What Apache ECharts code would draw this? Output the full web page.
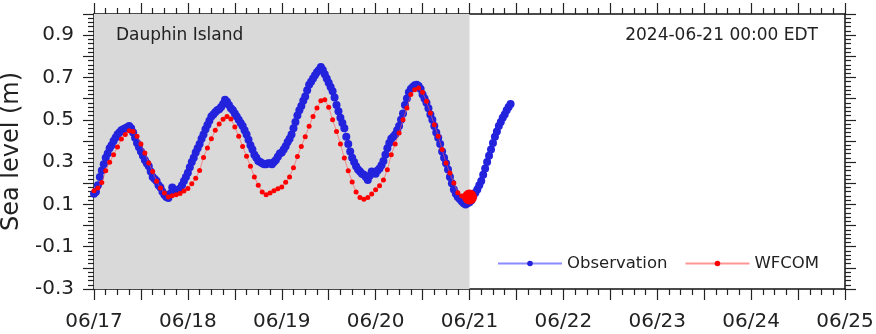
<!DOCTYPE html>
<html>
<head>
<meta charset="utf-8">
<script src="https://cdn.jsdelivr.net/npm/echarts@6/dist/echarts.min.js"></script>
<style>
html,body{margin:0;padding:0;background:#fff;}
#chart{width:876px;height:334px;}
</style>
</head>
<body>
<div id="chart"></div>
<script>
// ---- data ----
const xTickLabels = ['06/17','06/18','06/19','06/20','06/21','06/22','06/23','06/24','06/25'];
const yTickLabels = ['-0.3','-0.1','0.1','0.3','0.5','0.7','0.9'];
const stationName = 'Dauphin Island';
const nowLabel = '2024-06-21 00:00 EDT';
const nowHour = 96;               // 06/21 00:00, hours after 06/17 00:00
const obsStepHours = 0.5;
const obsValues = [
  0.15,0.16,0.19,0.23,0.26,0.29,0.32,0.34,0.365,0.38,0.40,0.415,0.43,0.44,0.45,0.455,0.46,0.465,0.47,0.46,0.44,0.415,0.39,0.37,
  0.35,0.33,0.31,0.295,0.28,0.255,0.23,0.22,0.21,0.19,0.18,0.16,0.145,0.135,0.13,0.15,0.18,0.17,0.16,0.165,0.175,0.19,0.21,0.23,
  0.25,0.275,0.30,0.32,0.345,0.365,0.385,0.41,0.43,0.455,0.475,0.495,0.515,0.525,0.535,0.545,0.55,0.56,0.575,0.595,0.585,0.57,0.555,0.545,
  0.53,0.515,0.50,0.485,0.47,0.45,0.43,0.405,0.38,0.36,0.335,0.32,0.305,0.30,0.295,0.29,0.29,0.295,0.295,0.29,0.30,0.31,0.325,0.34,
  0.345,0.36,0.375,0.395,0.41,0.43,0.46,0.49,0.52,0.545,0.565,0.59,0.61,0.64,0.665,0.68,0.695,0.71,0.725,0.735,0.75,0.735,0.715,0.695,
  0.675,0.655,0.635,0.605,0.57,0.54,0.51,0.485,0.46,0.42,0.385,0.35,0.32,0.30,0.28,0.265,0.255,0.245,0.24,0.23,0.215,0.235,0.255,0.25,
  0.245,0.26,0.27,0.285,0.305,0.335,0.365,0.39,0.41,0.42,0.43,0.45,0.47,0.50,0.53,0.57,0.60,0.63,0.645,0.655,0.663,0.665,0.66,0.645,
  0.62,0.60,0.58,0.555,0.525,0.50,0.47,0.44,0.415,0.385,0.35,0.32,0.295,0.265,0.23,0.20,0.17,0.15,0.135,0.125,0.115,0.105,0.10,0.105,
  0.11,0.12,0.14,0.155,0.17,0.19,0.21,0.24,0.27,0.30,0.33,0.36,0.39,0.42,0.445,0.47,0.49,0.51,0.525,0.545,0.56,0.575
];
const fcStepHours = 1;
const fcValues = [
  0.165,0.178,0.204,0.259,0.299,0.335,0.371,0.409,0.43,0.448,
  0.445,0.422,0.386,0.343,0.296,0.256,0.209,0.178,0.154,0.135,
  0.141,0.146,0.152,0.163,0.175,0.197,0.223,0.26,0.322,0.366,
  0.41,0.45,0.48,0.502,0.515,0.504,0.466,0.422,0.374,0.327,
  0.28,0.23,0.19,0.159,0.146,0.154,0.165,0.174,0.182,0.205,
  0.23,0.273,0.326,0.374,0.42,0.469,0.516,0.556,0.59,0.595,
  0.559,0.50,0.445,0.386,0.319,0.259,0.206,0.159,0.133,0.124,
  0.133,0.149,0.169,0.188,0.215,0.264,0.335,0.386,0.438,0.50,
  0.556,0.619,0.642,0.65,0.63,0.587,0.532,0.477,0.422,0.359,
  0.296,0.248,0.201,0.155,0.14,0.13,0.135
];
const nowValue = fcValues[fcValues.length - 1];

// ---- build ----
const obsData = obsValues.map((v, i) => [i * obsStepHours, v]);
const fcData = fcValues.map((v, i) => [i * fcStepHours, v]);
const FONT = 'DejaVu Sans';
const TXT = '#222';

const xBase = {
  type: 'value', min: 0, max: 192, interval: 12,
  axisLine: { show: true, onZero: false, lineStyle: { color: '#111', width: 1.5 } },
  axisTick: { show: true, inside: false, length: 11, lineStyle: { color: '#222', width: 1.2 } },
  minorTick: { show: true, splitNumber: 4, length: 6, lineStyle: { color: '#222', width: 1.2 } },
  splitLine: { show: false }, minorSplitLine: { show: false }
};
const yBase = {
  type: 'value', min: -0.3, max: 1.0, interval: 0.1,
  axisLine: { show: true, onZero: false, lineStyle: { color: '#111', width: 1.5 } },
  axisTick: { show: true, inside: false, length: 11, lineStyle: { color: '#222', width: 1.2 } },
  minorTick: { show: true, splitNumber: 5, length: 6, lineStyle: { color: '#222', width: 1.2 } },
  splitLine: { show: false }, minorSplitLine: { show: false }
};

const chart = echarts.init(document.getElementById('chart'), null, { renderer: 'canvas' });
chart.setOption({
  animation: false,
  backgroundColor: '#fff',
  textStyle: { fontFamily: FONT },
  grid: { left: 94, right: 31, top: 14, bottom: 45, containLabel: false, outerBoundsMode: 'none' },
  xAxis: [
    Object.assign({}, xBase, {
      position: 'bottom',
      axisLabel: {
        show: true, margin: 23, fontSize: 20, color: TXT, fontFamily: FONT,
        showMinLabel: true, showMaxLabel: true, hideOverlap: false,
        formatter: v => (Math.round(v) % 24 === 0 ? xTickLabels[Math.round(v) / 24] : '')
      }
    }),
    Object.assign({}, xBase, { position: 'top', axisLabel: { show: false } })
  ],
  yAxis: [
    Object.assign({}, yBase, {
      position: 'left',
      name: 'Sea level (m)', nameLocation: 'middle', nameGap: 57,
      nameTextStyle: { fontSize: 24, color: TXT, fontFamily: FONT },
      axisLabel: {
        show: true, margin: 20, fontSize: 20, color: TXT, fontFamily: FONT,
        showMinLabel: true, showMaxLabel: true, hideOverlap: false,
        formatter: v => { const s = (Math.round(v * 10) / 10).toFixed(1); return yTickLabels.indexOf(s) >= 0 ? s : ''; }
      }
    }),
    Object.assign({}, yBase, { position: 'right', axisLabel: { show: false } })
  ],
  legend: {
    show: true, left: 497, top: 255, padding: 0, itemGap: 17,
    itemWidth: 64, itemHeight: 7,
    data: ['Observation', 'WFCOM'],
    textStyle: { fontSize: 16.5, color: TXT, fontFamily: FONT }
  },
  graphic: [
    { type: 'text', left: 116, top: 27, silent: true, z: 100, zlevel: 0,
      style: { text: stationName, fontSize: 17, fill: TXT, fontFamily: FONT } },
    { type: 'text', right: 58, top: 27, silent: true, z: 100, zlevel: 0,
      style: { text: nowLabel, fontSize: 17, fill: TXT, fontFamily: FONT } }
  ],
  series: [
    {
      name: 'past', type: 'line', data: [], z: 0, silent: true,
      markArea: { silent: true, itemStyle: { color: '#d9d9d9' },
        data: [[{ xAxis: 0 }, { xAxis: nowHour }]] }
    },
    {
      name: 'Observation', type: 'line', data: obsData, z: 3,
      symbol: 'circle', symbolSize: 8, showSymbol: true, showAllSymbol: true,
      itemStyle: { color: '#2323dd' },
      lineStyle: { color: 'rgba(90,90,255,0.7)', width: 1 }
    },
    {
      name: 'WFCOM', type: 'line', data: fcData, z: 4,
      symbol: 'circle', symbolSize: 5, showSymbol: true, showAllSymbol: true,
      itemStyle: { color: '#ff0000' },
      lineStyle: { color: 'rgba(255,80,80,0.6)', width: 1 }
    },
    {
      name: 'now', type: 'scatter', data: [[nowHour, nowValue]], z: 5,
      symbol: 'circle', symbolSize: 15, itemStyle: { color: '#ff0000', opacity: 1 }
    }
  ]
});
</script>
</body>
</html>
